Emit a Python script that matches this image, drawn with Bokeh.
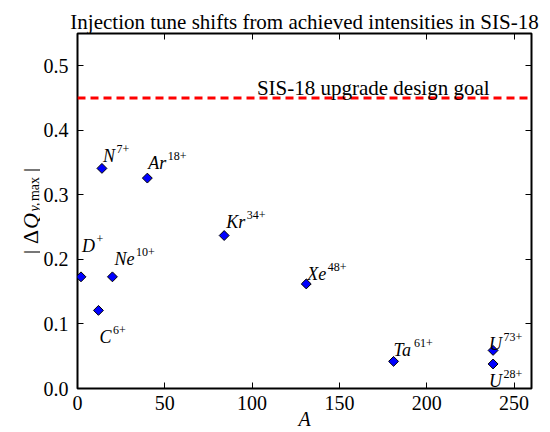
import math
from bokeh.plotting import figure
from bokeh.layouts import row, column
from bokeh.models import (Range1d, FixedTicker, PrintfTickFormatter, LinearAxis, Span, Label,
                          ColumnDataSource, CustomJSTickFormatter)
from bokeh.core.properties import value
from bokeh.embed import file_html
from bokeh.resources import INLINE

# ---- data ----
mass_number = [2, 12, 14, 20, 40, 84, 131, 181, 238, 238]
tune_shift = [0.173, 0.121, 0.341, 0.173, 0.326, 0.237, 0.162, 0.042, 0.059, 0.038]
ion_symbol = ["D", "C", "N", "Ne", "Ar", "Kr", "Xe", "Ta", "U", "U"]
ion_charge = ["+", "6+", "7+", "10+", "18+", "34+", "48+", "61+", "73+", "28+"]
design_goal = 0.45
goal_label = "SIS-18 upgrade design goal"
x_ticks = [0, 50, 100, 150, 200, 250]
y_ticks = [0.0, 0.1, 0.2, 0.3, 0.4, 0.5]
title_text = "Injection tune shifts from achieved intensities in SIS-18"
x_label = "A"

# ---- layout (label offsets in screen px) ----
label_dx = [1, 1, 1, 2, 1, 2, 1, 0, -4, -4]
label_dy = [-31, 27, -12, -18, -15, -14, -10, -11, -6, 17]
BASE_PX = 18
SUP_PX = 12
# approximate italic serif advance widths (per 1000 em)
ital_w = {"D": 722, "C": 667, "N": 667, "e": 444, "A": 611, "r": 389, "K": 667,
          "X": 611, "T": 556, "a": 500, "U": 722}
base_w = [sum(ital_w[c] for c in s) * BASE_PX / 1000.0 for s in ion_symbol]
sup_dx = [dx + w + 1.5 for dx, w in zip(label_dx, base_w)]
sup_dy = [dy - 7 for dy in label_dy]

SERIF = "Liberation Serif"

src = ColumnDataSource(dict(x=mass_number, y=tune_shift, base=ion_symbol, sup=ion_charge,
                            dx=label_dx, dy=label_dy, sdx=sup_dx, sdy=sup_dy))

p = figure(width=510, height=432, x_range=Range1d(0, 260), y_range=Range1d(0, 0.55),
           output_backend="svg", toolbar_location=None,
           min_border_left=37, min_border_right=19, min_border_top=33, min_border_bottom=44,
           title=title_text)
p.title.text_font = SERIF
p.title.text_font_style = "normal"
p.title.text_font_size = "21px"
p.title.text_color = "black"
p.title.align = "center"
p.title.standoff = 0
p.xgrid.visible = False
p.ygrid.visible = False
p.outline_line_color = "black"
p.outline_line_width = 2
p.outline_line_alpha = 1
p.background_fill_color = "white"
p.border_fill_color = "white"


def style(ax, ticks):
    ax.ticker = FixedTicker(ticks=ticks)
    ax.axis_line_color = None
    ax.major_tick_in = 6
    ax.major_tick_out = 0
    ax.minor_tick_line_color = None
    ax.major_tick_line_color = "black"
    ax.major_tick_line_width = 1
    ax.major_label_text_font = SERIF
    ax.major_label_text_font_style = "normal"
    ax.major_label_text_font_size = "20px"
    ax.major_label_text_color = "black"


xa = p.xaxis[0]
style(xa, x_ticks)
xa.major_label_standoff = 7
xa.axis_label = x_label
xa.axis_label_text_font = SERIF
xa.axis_label_text_font_style = "italic"
xa.axis_label_text_font_size = "20px"
xa.axis_label_text_color = "black"
xa.axis_label_standoff = -5

ya = p.yaxis[0]
style(ya, y_ticks)
ya.formatter = PrintfTickFormatter(format="%.1f")
ya.major_label_standoff = 9

empty = CustomJSTickFormatter(code="return ''")
top = LinearAxis(formatter=empty)
style(top, x_ticks)
top.major_label_standoff = 0
p.add_layout(top, "above")
right = LinearAxis(formatter=empty)
style(right, y_ticks)
right.major_label_standoff = 0
p.add_layout(right, "right")

# design goal
p.add_layout(Span(location=design_goal, dimension="width", line_color="#ff0000",
                  line_width=3, line_dash="8 5"))
p.add_layout(Label(x=236, y=0.465, text=goal_label, text_align="right",
                   text_baseline="alphabetic", text_font=SERIF, text_font_size="21px",
                   text_color="black"))

# points
p.scatter("x", "y", source=src, marker="square", angle=math.pi / 4, size=7,
          fill_color="#0000ff", line_color="black", line_width=1)
p.text("x", "y", text="base", source=src, x_offset="dx", y_offset="dy",
       text_font=value(SERIF), text_font_style="italic", text_font_size=f"{BASE_PX}px",
       text_align="left", text_baseline="alphabetic", text_color="black")
p.text("x", "y", text="sup", source=src, x_offset="sdx", y_offset="sdy",
       text_font=value(SERIF), text_font_style="normal", text_font_size=f"{SUP_PX}px",
       text_align="left", text_baseline="alphabetic", text_color="black")

# y axis label | ΔQ_{y,max} | drawn rotated in a narrow strip on the left
ylab = figure(width=40, height=432, x_range=Range1d(0, 40), y_range=Range1d(0, 432),
              output_backend="svg", toolbar_location=None, min_border=0, title=None,
              x_axis_location=None, y_axis_location=None)
ylab.xgrid.visible = False
ylab.ygrid.visible = False
ylab.outline_line_color = None
ylab.background_fill_color = "white"
ylab.border_fill_color = "white"
ylab_src = ColumnDataSource(dict(
    t=["|", "Δ", "Q", "y,", "max", "|"],
    x=[30, 30, 30, 34, 34, 30],
    y=[180.5, 195.5, 211.5, 225.5, 243.5, 262.5],
    st=["normal", "normal", "italic", "italic", "normal", "normal"],
    fs=["22px", "22px", "22px", "14px", "14px", "22px"],
))
ylab.text("x", "y", text="t", source=ylab_src, angle=math.pi / 2, text_align="center",
          text_baseline="alphabetic", text_font=value(SERIF), text_font_style="st",
          text_font_size="fs", text_color="black")

layout = row(ylab, column(p, spacing=0), spacing=0)
open("out.html", "w").write(file_html(layout, INLINE))
